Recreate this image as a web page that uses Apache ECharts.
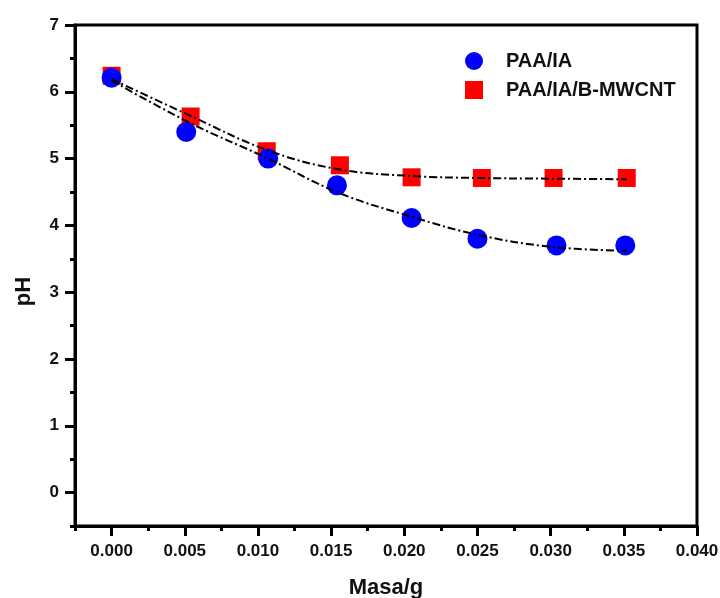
<!DOCTYPE html>
<html>
<head>
<meta charset="utf-8">
<script src="https://cdn.jsdelivr.net/npm/echarts@6/dist/echarts.min.js"></script>
<style>
  html, body { margin: 0; padding: 0; background: #fff; }
  #chart { width: 720px; height: 598px; }
</style>
</head>
<body>
<div id="chart"></div>
<script>
// measured points
const massA = [0, 0.0051, 0.0107, 0.0154, 0.0205, 0.0250, 0.0304, 0.0351];
const phA = [6.21, 5.40, 5.00, 4.60, 4.11, 3.80, 3.70, 3.70];
const massB = [0, 0.0054, 0.0106, 0.0156, 0.0205, 0.0253, 0.0302, 0.0352];
const phB = [6.24, 5.63, 5.11, 4.90, 4.72, 4.71, 4.71, 4.71];

// fitted curves
const fitX = [0, 0.0054, 0.0106, 0.0155, 0.0205, 0.0250, 0.0300, 0.0352];
const fitA = [6.17, 5.53, 5.01, 4.49, 4.13, 3.86, 3.68, 3.62];
const fitB = [6.19, 5.64, 5.13, 4.84, 4.74, 4.71, 4.70, 4.69];

// ticks
const xTicks = [0, 0.005, 0.01, 0.015, 0.02, 0.025, 0.03, 0.035, 0.04];
const xMinor = [-0.0025, 0.0025, 0.0075, 0.0125, 0.0175, 0.0225, 0.0275, 0.0325, 0.0375];
const yTicks = [0, 1, 2, 3, 4, 5, 6, 7];
const yMinor = [-0.5, 0.5, 1.5, 2.5, 3.5, 4.5, 5.5, 6.5];

const nameA = "PAA/IA";
const nameB = "PAA/IA/B-MWCNT";

const pairs = (xs, ys) => xs.map((x, i) => [x, ys[i]]);

const chart = echarts.init(document.getElementById("chart"));

const font = "'Liberation Sans', Arial, sans-serif";
const xBase = { type: "value", min: -0.0025, max: 0.04, gridIndex: 0, position: "bottom" };
const yBase = { type: "value", min: -0.5, max: 7, gridIndex: 0, position: "left" };

const option = {
  backgroundColor: "#fff",
  animation: false,
  grid: {
    left: 75, right: 23, top: 25, bottom: 72,
    outerBoundsMode: "none",
    containLabel: false,
    show: true, borderColor: "#000", borderWidth: 3
  },
  legend: {
    orient: "vertical",
    left: 460, top: 46,
    itemWidth: 18, itemHeight: 18, itemGap: 9,
    data: [nameA, nameB],
    textStyle: { fontFamily: font, fontWeight: "bold", fontSize: 20, color: "#111", padding: [0, 0, 0, 18] }
  },
  xAxis: [
    Object.assign({}, xBase, {
      name: "Masa/g",
      nameLocation: "middle",
      nameGap: 51,
      nameTextStyle: { fontFamily: font, fontWeight: "bold", fontSize: 22, color: "#111" },
      axisLine: { onZero: false, lineStyle: { color: "#000", width: 3 } },
      axisTick: { customValues: xTicks, length: 10, lineStyle: { color: "#000", width: 3 } },
      axisLabel: {
        customValues: xTicks, margin: 17,
        fontFamily: font, fontWeight: "bold", fontSize: 17, color: "#111",
        formatter: v => v.toFixed(3)
      },
      splitLine: { show: false }
    }),
    Object.assign({}, xBase, {
      axisLine: { show: false, onZero: false },
      axisTick: { customValues: xMinor, length: 5, lineStyle: { color: "#000", width: 3 } },
      axisLabel: { show: false },
      splitLine: { show: false }
    })
  ],
  yAxis: [
    Object.assign({}, yBase, {
      name: "pH",
      nameLocation: "middle",
      nameGap: 40,
      nameTextStyle: { fontFamily: font, fontWeight: "bold", fontSize: 22, color: "#111", padding: [0, 32, 0, 0] },
      axisLine: { onZero: false, lineStyle: { color: "#000", width: 3 } },
      axisTick: { customValues: yTicks, length: 10, lineStyle: { color: "#000", width: 3 } },
      axisLabel: {
        customValues: yTicks, margin: 16,
        fontFamily: font, fontWeight: "bold", fontSize: 17, color: "#111"
      },
      splitLine: { show: false }
    }),
    Object.assign({}, yBase, {
      axisLine: { show: false, onZero: false },
      axisTick: { customValues: yMinor, length: 5, lineStyle: { color: "#000", width: 3 } },
      axisLabel: { show: false },
      splitLine: { show: false }
    })
  ],
  series: [
    {
      name: nameB,
      type: "scatter",
      symbol: "rect",
      symbolSize: 18,
      itemStyle: { color: "#ff0000", opacity: 1 },
      data: pairs(massB, phB),
      z: 2
    },
    {
      name: nameA,
      type: "scatter",
      symbol: "circle",
      symbolSize: 20,
      itemStyle: { color: "#0000ff", opacity: 1 },
      data: pairs(massA, phA),
      z: 3
    },
    {
      name: "fitB",
      type: "line",
      smooth: 0.4,
      showSymbol: false,
      lineStyle: { color: "#000", width: 2, type: [8, 3, 2, 3] },
      data: pairs(fitX, fitB),
      z: 4
    },
    {
      name: "fitA",
      type: "line",
      smooth: 0.4,
      showSymbol: false,
      lineStyle: { color: "#000", width: 2, type: [8, 3, 2, 3] },
      data: pairs(fitX, fitA),
      z: 4
    }
  ]
};

chart.setOption(option);
</script>
</body>
</html>
